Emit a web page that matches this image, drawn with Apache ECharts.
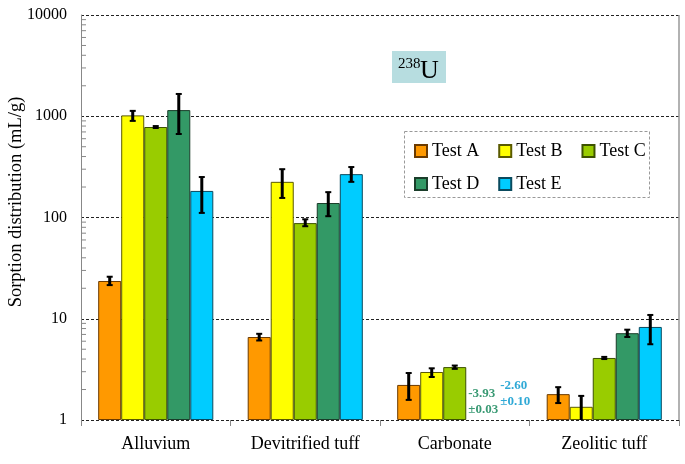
<!DOCTYPE html>
<html>
<head>
<meta charset="utf-8">
<script src="https://cdn.jsdelivr.net/npm/echarts@6/dist/echarts.min.js"></script>
<style>html,body{margin:0;padding:0;background:#fff}#c{width:685px;height:464px}</style>
</head>
<body>
<div id="c"></div>
<script>
const categories = ['Alluvium', 'Devitrified tuff', 'Carbonate', 'Zeolitic tuff'];
const seriesNames = ['Test A', 'Test B', 'Test C', 'Test D', 'Test E'];
const testA = [23.6, 6.6, 2.22, 1.80];
const testB = [1020, 225, 2.98, 1.35];
const testC = [783, 88, 3.33, 4.1];
const testD = [1150, 139, null, 7.2];
const testE = [183, 268, null, 8.3];
const errLowA = [21.5, 6.1, 1.58, 1.47];
const errHighA = [26, 7.1, 2.91, 2.11];
const errLowB = [900, 156, 2.66, 0.9];
const errHighB = [1130, 300, 3.24, 1.73];
const errLowC = [765, 82, 3.2, 4.0];
const errHighC = [800, 96, 3.45, 4.2];
const errLowD = [668, 103, null, 6.6];
const errHighD = [1660, 178, null, 7.8];
const errLowE = [111, 225, null, 5.6];
const errHighE = [251, 315, null, 10.9];
const yTickLabels = ['1', '10', '100', '1000', '10000'];
const minorTicks = [2,3,4,5,6,7,8,9,20,30,40,50,60,70,80,90,200,300,400,500,600,700,800,900,2000,3000,4000,5000,6000,7000,8000,9000];
const yAxisTitle = 'Sorption distribution (mL/g)';
const annotations = [
  {text: '-3.93\n±0.03', color: '#3a9a74'},
  {text: '-2.60\n±0.10', color: '#2fa9d6'}
];

const colors = ['#ff9900', '#ffff00', '#99cc00', '#339966', '#00ccff'];
const borders = ['#6b3a00', '#5a5a00', '#3d5200', '#1a3d2a', '#0a4a5e'];
const values = [testA, testB, testC, testD, testE];
const lows = [errLowA, errLowB, errLowC, errLowD, errLowE];
const highs = [errHighA, errHighB, errHighC, errHighD, errHighE];
const catGap = 0.23;
const serif = '"Liberation Serif", "DejaVu Serif", serif';

const series = [];
seriesNames.forEach((n, i) => {
  series.push({
    name: n, type: 'bar', data: values[i].map(v => v == null ? '-' : v),
    barGap: '0%', barCategoryGap: (catGap * 100) + '%',
    itemStyle: {color: colors[i], borderColor: borders[i], borderWidth: 1},
    z: 2
  });
});
seriesNames.forEach((n, i) => {
  series.push({
    type: 'custom', clip: true, silent: true, z: 5,
    data: categories.map((c, k) => [k, lows[i][k], highs[i][k]]).filter(d => d[1] != null),
    encode: {x: 0, y: [1, 2]},
    renderItem: function (params, api) {
      const k = api.value(0);
      const bw = api.size([1, 0])[0];
      const barW = bw * (1 - catGap) / 5;
      const lo = api.coord([k, api.value(1)]);
      const hi = api.coord([k, api.value(2)]);
      const x = lo[0] + (i - 2) * barW;
      const cap = 3;
      const st = {stroke: '#000', lineWidth: 3};
      return {type: 'group', children: [
        {type: 'line', shape: {x1: x, y1: lo[1], x2: x, y2: hi[1]}, style: st},
        {type: 'line', shape: {x1: x - cap, y1: lo[1], x2: x + cap, y2: lo[1]}, style: {stroke: '#000', lineWidth: 2}},
        {type: 'line', shape: {x1: x - cap, y1: hi[1], x2: x + cap, y2: hi[1]}, style: {stroke: '#000', lineWidth: 2}}
      ]};
    }
  });
});
series.push({
  type: 'custom', silent: true, z: 4,
  data: minorTicks.map(v => [0, v]),
  renderItem: function (params, api) {
    const y = api.coord([0, api.value(1)])[1];
    const x = params.coordSys.x;
    return {type: 'line', shape: {x1: x, y1: y, x2: x + 5, y2: y}, style: {stroke: '#888', lineWidth: 1}};
  }
});
series.push({
  type: 'custom', silent: true, z: 6,
  data: [[2, 0], [2, 1]],
  renderItem: function (params, api) {
    const idx = api.value(1);
    const bw = api.size([1, 0])[0];
    const barW = bw * (1 - catGap) / 5;
    const base = api.coord([2, 1]);
    const a = annotations[idx];
    const x = base[0] + (idx === 0 ? 0.5 : 1.5) * barW + (idx === 0 ? 2 : 11);
    const y = base[1] - (idx === 0 ? 34 : 42);
    return {type: 'text', style: {text: a.text, x: x, y: y, fill: a.color, font: 'bold 13px ' + serif, lineHeight: 16}};
  }
});

const chart = echarts.init(document.getElementById('c'));
const legendText = {fontFamily: serif, fontSize: 18, color: '#000'};
chart.setOption({
  animation: false,
  grid: {left: 81, right: 6, top: 15, bottom: 44, outerBoundsMode: 'none', containLabel: false},
  legend: [
    {data: seriesNames.slice(0, 3), left: 409, top: 137, icon: 'rect', itemWidth: 12, itemHeight: 12, itemGap: 19, textStyle: legendText},
    {data: seriesNames.slice(3), left: 409, top: 170, icon: 'rect', itemWidth: 12, itemHeight: 12, itemGap: 19, textStyle: legendText}
  ],
  xAxis: {
    type: 'category', data: categories,
    axisLine: {show: false},
    axisTick: {show: true, length: 6, lineStyle: {color: '#888'}},
    axisLabel: {fontFamily: serif, fontSize: 18, color: '#000', margin: 15}
  },
  yAxis: {
    type: 'log', logBase: 10, min: 1, max: 10000,
    axisLine: {show: true, lineStyle: {color: '#888'}},
    axisTick: {show: false},
    axisLabel: {fontFamily: serif, fontSize: 16, color: '#000', margin: 14,
      formatter: v => yTickLabels[Math.round(Math.log10(v))]},
    splitLine: {show: true, lineStyle: {color: '#222', type: [3, 2], width: 1}}
  },
  graphic: [
    {type: 'text', x: 16, y: 202, rotation: Math.PI / 2, z: 11,
     style: {text: yAxisTitle, font: '18.5px ' + serif, fill: '#000', align: 'center', verticalAlign: 'middle'}},
    {type: 'line', shape: {x1: 679, y1: 15, x2: 679, y2: 420}, style: {stroke: '#999', lineWidth: 1.5}, z: 1},
    {type: 'rect', shape: {x: 392, y: 51, width: 54, height: 32}, style: {fill: '#b7dde0'}, z: 10},
    {type: 'text', x: 398, y: 57, z: 11, style: {text: '238', font: '15px ' + serif, fill: '#000'}},
    {type: 'text', x: 420, y: 58, z: 11, style: {text: 'U', font: '26px ' + serif, fill: '#000'}},
    {type: 'rect', shape: {x: 404.5, y: 131.5, width: 245, height: 66}, style: {fill: 'none', stroke: '#999', lineDash: [3, 2], lineWidth: 1}, z: 10}
  ],
  series: series
});
</script>
</body>
</html>
